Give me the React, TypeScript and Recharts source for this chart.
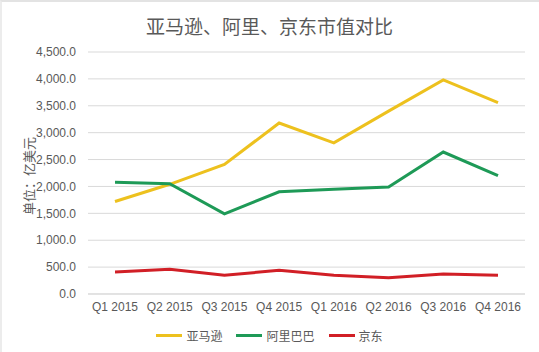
import React from 'react';
import { LineChart, Line, XAxis, YAxis, CartesianGrid } from 'recharts';

const categories = ['Q1 2015', 'Q2 2015', 'Q3 2015', 'Q4 2015', 'Q1 2016', 'Q2 2016', 'Q3 2016', 'Q4 2016'];
const amazon = [1720, 2040, 2410, 3180, 2810, 3400, 3980, 3560];
const alibaba = [2080, 2050, 1490, 1900, 1950, 1990, 2640, 2200];
const jd = [410, 460, 350, 440, 350, 300, 370, 350];
const yTicks = [0, 500, 1000, 1500, 2000, 2500, 3000, 3500, 4000, 4500];

const seriesNames = ['亚马逊', '阿里巴巴', '京东'];
const colors = ['#EDC11E', '#1E9A57', '#D11F26'];

const data = categories.map((c, i) => ({ cat: c, amazon: amazon[i], alibaba: alibaba[i], jd: jd[i] }));

const fontStack = '"Noto Sans CJK SC", "Liberation Sans", sans-serif';
const tickStyle = { fontSize: 12, fill: '#595959', fontFamily: '"Liberation Sans", "Noto Sans", sans-serif' };

const fmt = (v: number) => v.toLocaleString('en-US', { minimumFractionDigits: 1, maximumFractionDigits: 1 });

export default function App() {
  return (
    <div style={{ position: 'absolute', left: 0, top: 0, width: 539, height: 352, background: '#fff', overflow: 'hidden' }}>
      <div style={{ position: 'absolute', left: 0, top: 0, width: 539, height: 352 }}>
        <LineChart width={539} height={352} data={data} margin={{ top: 52, right: 14, bottom: 28, left: 0 }}>
          <CartesianGrid vertical={false} stroke="#d9d9d9" />
          <XAxis dataKey="cat" height={30} padding={{ left: 27, right: 27 }} axisLine={{ stroke: '#d9d9d9' }} tickLine={false} tickSize={0} tickMargin={8} tick={tickStyle} interval={0} />
          <YAxis width={88} domain={[0, 4500]} ticks={yTicks} axisLine={false} tickLine={false} tickSize={0} tickMargin={12} tick={tickStyle} tickFormatter={fmt} />
          <Line type="linear" dataKey="amazon" name={seriesNames[0]} stroke={colors[0]} strokeWidth={3} dot={false} isAnimationActive={false} />
          <Line type="linear" dataKey="alibaba" name={seriesNames[1]} stroke={colors[1]} strokeWidth={3} dot={false} isAnimationActive={false} />
          <Line type="linear" dataKey="jd" name={seriesNames[2]} stroke={colors[2]} strokeWidth={3} dot={false} isAnimationActive={false} />
        </LineChart>
      </div>
      <div style={{ position: 'absolute', left: 0, top: 0, width: 539, height: 352, boxSizing: 'border-box', borderTop: '2px solid #e3e3e3', borderLeft: '2px solid #ececec', pointerEvents: 'none' }} />
      <div style={{ position: 'absolute', left: 0, top: 12, width: 539, textAlign: 'center', fontFamily: fontStack, fontSize: 19, color: '#595959' }}>
        亚马逊、阿里、京东市值对比
      </div>
      <div style={{ position: 'absolute', left: 28, top: 176, transform: 'translate(-50%, -50%) rotate(-90deg)', whiteSpace: 'nowrap', fontFamily: fontStack, fontSize: 13, color: '#595959' }}>
        单位：亿美元
      </div>
      <div style={{ position: 'absolute', left: 0, top: 327, width: 539, display: 'flex', justifyContent: 'center', alignItems: 'center', gap: 14, fontFamily: fontStack, fontSize: 12, color: '#595959' }}>
        {seriesNames.map((n, i) => (
          <div key={n} style={{ display: 'flex', alignItems: 'center' }}>
            <div style={{ width: 26, height: 3, background: colors[i], marginRight: 4 }} />
            <span>{n}</span>
          </div>
        ))}
      </div>
    </div>
  );
}
